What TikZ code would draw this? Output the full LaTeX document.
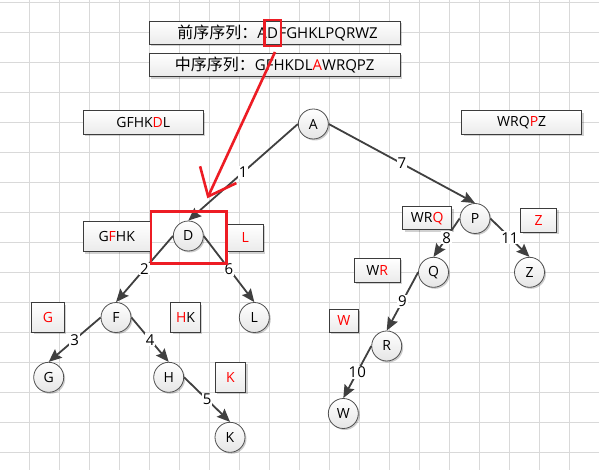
\documentclass[tikz,border=0pt]{standalone}
\usepackage{fontspec}
\setmainfont{Open Sans}
\newfontfamily\cjk{Noto Sans CJK SC}
\usetikzlibrary{arrows.meta,shadows,calc}
\definecolor{gridc}{HTML}{D9D9D9}
\definecolor{edgec}{HTML}{404040}
\definecolor{circb}{HTML}{505050}
\definecolor{boxb}{HTML}{3C3C3C}
\definecolor{redc}{HTML}{ED1C24}
\definecolor{txtred}{HTML}{FF0000}
\newcommand{\rd}[1]{\textcolor{txtred}{#1}}
\tikzset{
  tnode/.style={circle, draw=circb, line width=0.8pt, minimum size=30pt, inner sep=0pt,
    top color=white, bottom color=black!10, font=\fontsize{14}{16}\selectfont,
    drop shadow={shadow xshift=1.5pt, shadow yshift=-1.5pt, fill=black, opacity=0.2}},
  sbox/.style={rectangle, draw=boxb, line width=1pt, inner sep=0pt,
    top color=white, bottom color=black!8, font=\fontsize{14}{16}\selectfont,
    drop shadow={shadow xshift=2pt, shadow yshift=-2pt, fill=black, opacity=0.18}},
  ptext/.style={inner sep=0pt, font=\fontsize{15}{17}\selectfont},
  redframe/.style={draw=redc, line width=2.6pt, rectangle, inner sep=0pt},
  edge/.style={draw=edgec, line width=1.8pt, -{Stealth[length=13pt,width=11pt,inset=2pt]}},
  elbl/.style={fill=white, inner sep=1pt, font=\fontsize{15}{17}\selectfont},
}
\begin{document}
\begin{tikzpicture}[x=1pt,y=-1pt]
\useasboundingbox (0,0) rectangle (599,470);
\fill[white] (0,0) rectangle (599,470);
\foreach \i in {0,...,19} \draw[gridc, line width=1pt] ({29.5+30*\i},0) -- ({29.5+30*\i},470);
\foreach \j in {0,...,15} \draw[gridc, line width=1pt] (0,{2.3+30*\j}) -- (599,{2.3+30*\j});

% top sequence boxes
\node[sbox, minimum width=250.7pt, minimum height=23.3pt] (bPre) at (274.7,32.7) {};
\node[sbox, minimum width=250.7pt, minimum height=23.3pt] (bIn) at (274.7,65) {};
\node[ptext, anchor=base] (dD) at (272.7,38.5) {D};
\node[ptext, anchor=base east] (t1a) at (dD.base west) {{\cjk\fontsize{16}{17}\selectfont 前序序列：}A};
\node[ptext, anchor=base west] (t1b) at (dD.base east) {FGHKLPQRWZ};
\node[ptext, anchor=base] (t2) at (274.7,70.8) {{\cjk\fontsize{16}{17}\selectfont 中序序列：}GFHKDL\rd{A}WRQPZ};
\node[redframe, minimum width=16.7pt, minimum height=26pt] (rD) at (272.7,33) {};

% sub-sequence boxes
\node[sbox, minimum width=120pt, minimum height=23.6pt] (bL1) at (143.3,122.5) {GFHK\rd{D}L};
\node[sbox, minimum width=120pt, minimum height=23.6pt] (bR1) at (521.7,122.5) {WRQ\rd{P}Z};
\node[sbox, minimum width=66.7pt, minimum height=30pt] (bGFHK) at (116.7,236.7) {G\rd{F}HK};
\node[sbox, minimum width=36pt, minimum height=27.4pt] (bL) at (245.3,238) {\rd{L}};
\node[sbox, minimum width=49pt, minimum height=23.3pt] (bWRQ) at (427.2,218.3) {WR\rd{Q}};
\node[sbox, minimum width=36pt, minimum height=24pt] (bZ) at (538.7,220.3) {\rd{Z}};
\node[sbox, minimum width=45.7pt, minimum height=24pt] (bWR) at (377.2,270.3) {W\rd{R}};
\node[sbox, minimum width=32.6pt, minimum height=29.6pt] (bG) at (48,317.5) {\rd{G}};
\node[sbox, minimum width=29.6pt, minimum height=29.6pt] (bHK) at (185.5,317.5) {\rd{H}K};
\node[sbox, minimum width=30.4pt, minimum height=30pt] (bK) at (230.5,377.3) {\rd{K}};
\node[sbox, minimum width=29pt, minimum height=23.3pt] (bW) at (343.8,320.7) {\rd{W}};

% tree nodes
\node[tnode] (A) at (313.3,124) {A};
\node[tnode] (D) at (188.3,236) {D};
\node[tnode] (P) at (475,218.5) {P};
\node[tnode] (Q) at (433.5,272.3) {Q};
\node[tnode] (Z) at (529.5,272.3) {Z};
\node[tnode] (F) at (116,317.5) {F};
\node[tnode] (L) at (254.3,317.5) {L};
\node[tnode] (G) at (48.7,377.3) {G};
\node[tnode] (H) at (168.7,377.3) {H};
\node[tnode] (K) at (230,437.3) {K};
\node[tnode] (R) at (386.7,346) {R};
\node[tnode] (W) at (343.3,413.5) {W};

% edges
\draw[edge] (A.west) -- node[elbl]{1} (D.north);
\draw[edge] (D.west) -- node[elbl]{2} (F.north);
\draw[edge] (F.west) -- node[elbl]{3} (G.north);
\draw[edge] (F.east) -- node[elbl]{4} (H.north);
\draw[edge] (H.east) -- node[elbl]{5} (K.north);
\draw[edge] (D.east) -- node[elbl]{6} (L.north);
\draw[edge] (A.east) -- node[elbl]{7} (P.north);
\draw[edge] (P.west) -- node[elbl]{8} (Q.north);
\draw[edge] (Q.west) -- node[elbl]{9} (R.north);
\draw[edge] (R.west) -- node[elbl]{10} (W.north);
\draw[edge] (P.east) -- node[elbl]{11} (Z.north);

% red highlight
\node[redframe, minimum width=75.7pt, minimum height=51.6pt] (rDD) at (188.85,237.5) {};
\coordinate (ra) at (275,52);
\coordinate (rb) at (207.3,198.3);
\draw[redc, line width=2.6pt, -{Straight Barb[length=24pt,width=40pt]}] (ra) -- (rb);
\end{tikzpicture}
\end{document}
